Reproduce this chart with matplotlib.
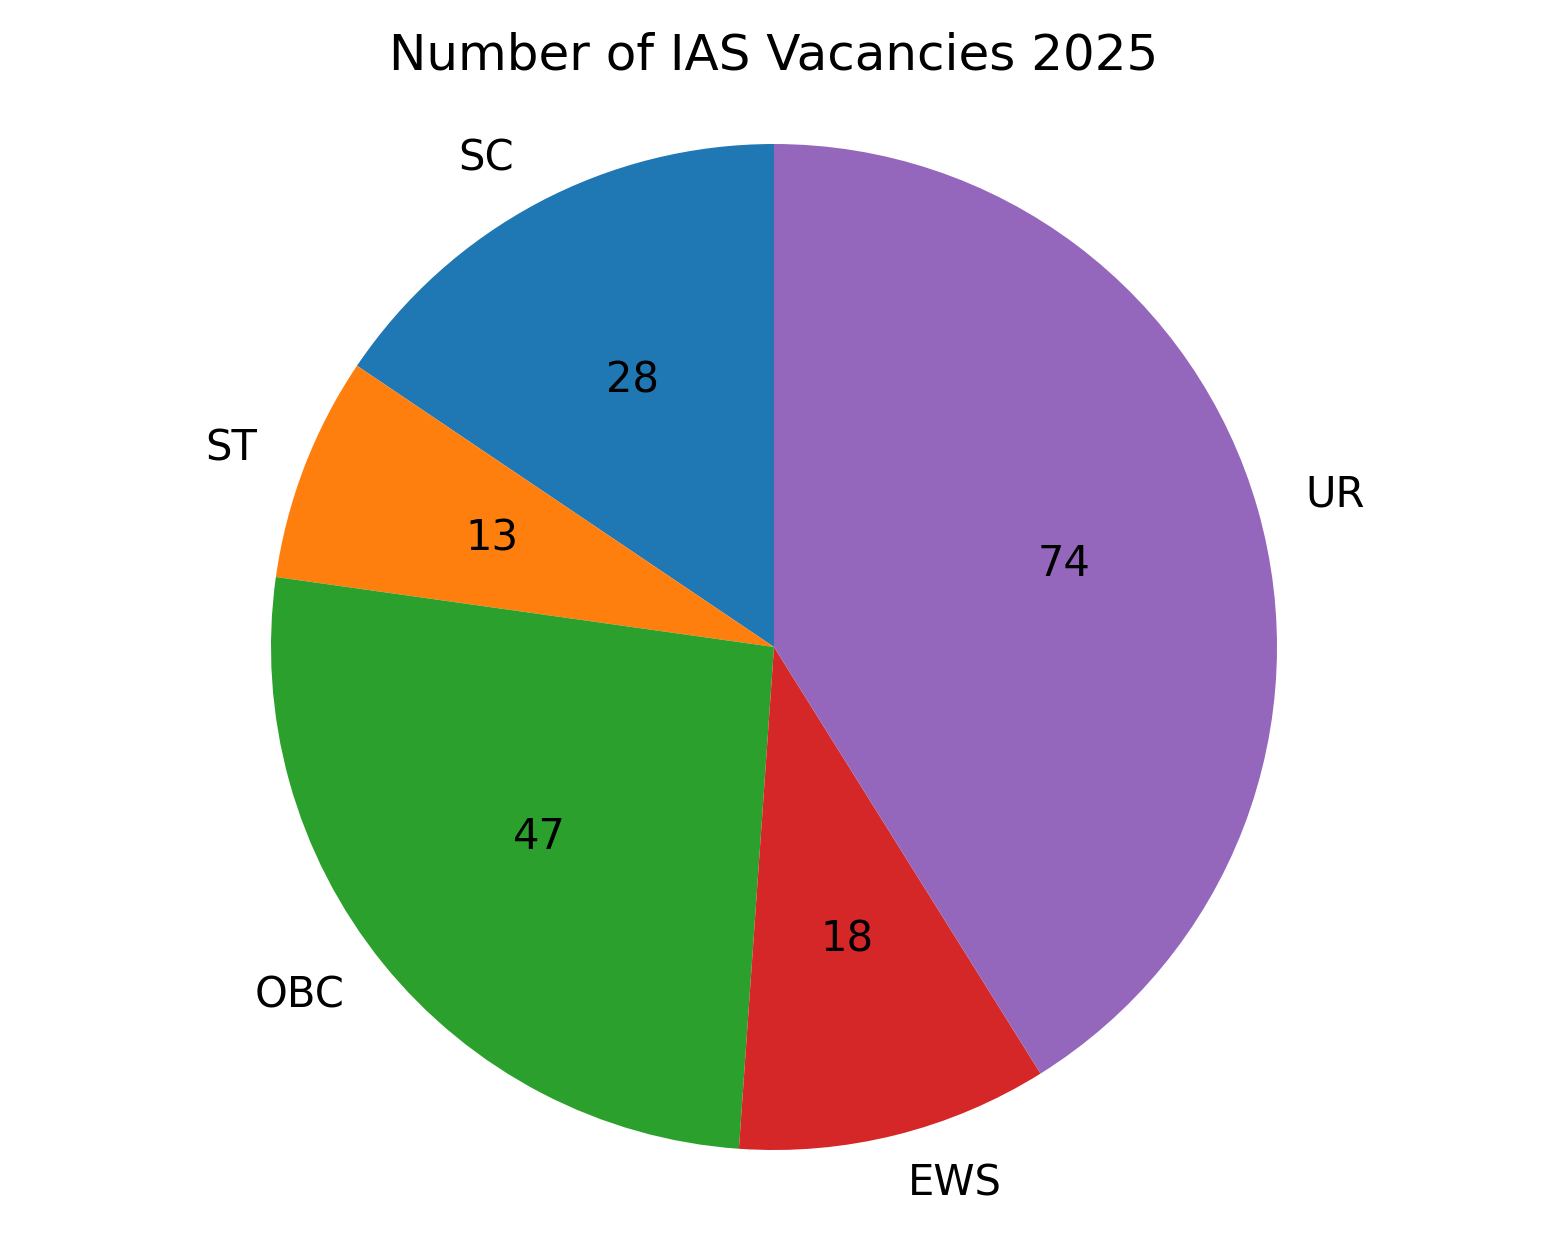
import matplotlib
matplotlib.use("Agg")
import matplotlib.pyplot as plt

categories = ["SC", "ST", "OBC", "EWS", "UR"]
vacancies = [28, 13, 47, 18, 74]
title = "Number of IAS Vacancies 2025"

W, H, DPI = 1548, 1236, 300
fig = plt.figure(figsize=(W / DPI, H / DPI), dpi=DPI)

R_px = 503.0
cx, cy = 774.0, 647.0
lim = 1.2
S = 2 * lim * R_px
ax = fig.add_axes([(cx - S / 2) / W, (H - cy - S / 2) / H, S / W, S / H])

total = sum(vacancies)
ax.pie(vacancies, labels=categories, startangle=90,
       autopct=lambda p: f"{round(p * total / 100)}")
ax.set_xlim(-lim, lim)
ax.set_ylim(-lim, lim)
ax.set_aspect("equal")
ax.axis("off")

fig.text(0.5, 1 - 69 / H, title, ha="center", va="baseline", fontsize=12)

fig.savefig("out.png", dpi=DPI)
